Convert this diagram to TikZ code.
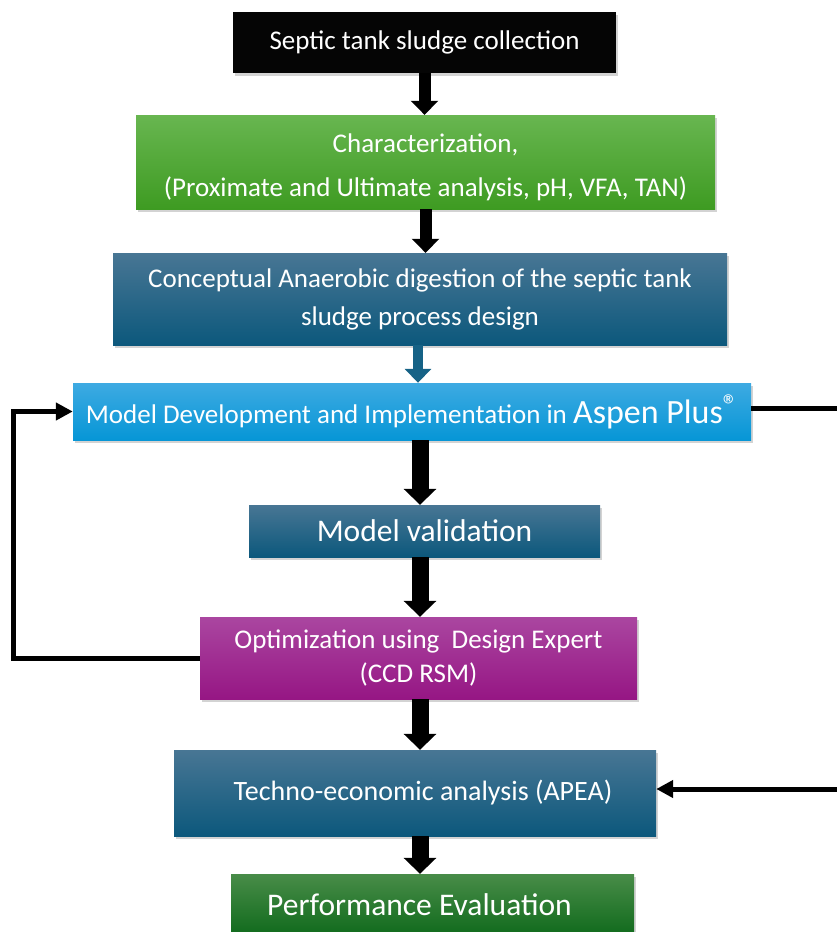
\documentclass[tikz,border=0pt]{standalone}
\usepackage{fontspec}
\setmainfont{Carlito}
\usetikzlibrary{arrows.meta,shadows}
\definecolor{collblack}{RGB}{5,5,5}
\definecolor{chartop}{RGB}{104,182,80}
\definecolor{charbot}{RGB}{62,155,34}
\definecolor{tealtop}{RGB}{72,118,148}
\definecolor{tealbot}{RGB}{12,88,124}
\definecolor{aspentop}{RGB}{62,170,226}
\definecolor{aspenbot}{RGB}{6,150,214}
\definecolor{opttop}{RGB}{170,70,160}
\definecolor{optbot}{RGB}{150,22,132}
\definecolor{perftop}{RGB}{72,140,72}
\definecolor{perfbot}{RGB}{16,106,28}
\definecolor{tealarrow}{RGB}{22,98,134}
\begin{document}
\begin{tikzpicture}[x=1pt, y=-1pt,
	box/.style={draw=none, text=white, align=center, inner sep=0pt,
		font=\fontsize{27}{38}\selectfont,
		drop shadow={shadow xshift=2pt, shadow yshift=-3pt, opacity=.35}},
	tealbox/.style={box, top color=tealtop, bottom color=tealbot},
	blockarr/.style={-{Triangle[width=27pt,length=14pt]}, line width=12pt},
	bigarr/.style={-{Triangle[width=32pt,length=16pt]}, line width=17pt},
	fb/.style={line width=5pt, -{Triangle[width=17pt,length=17pt]}}]
	\useasboundingbox (0,0) rectangle (837,932);
	\node[box, fill=collblack, minimum width=383pt, minimum height=61pt] (coll) at (424.5,42) {Septic tank sludge collection};
	\node[box, top color=chartop, bottom color=charbot, minimum width=579pt, minimum height=94pt, font=\fontsize{27}{44}\selectfont] (char) at (425.5,162) {\rule{0pt}{30pt}Characterization,\\ (Proximate and Ultimate analysis, pH, VFA, TAN)};
	\node[tealbox, minimum width=614pt, minimum height=92pt] (concept) at (420,299) {Conceptual Anaerobic digestion of the septic tank\\sludge process design};
	\node[box, top color=aspentop, bottom color=aspenbot, minimum width=678pt, minimum height=57pt, font=\fontsize{27}{30}\selectfont] (model) at (412,411.5) {Model Development and Implementation in {\fontsize{34}{34}\selectfont Aspen Plus\raisebox{8pt}{\fontsize{30}{30}\selectfont ®}}};
	\node[tealbox, minimum width=351pt, minimum height=52pt, font=\fontsize{31.5}{34}\selectfont] (valid) at (424.5,531) {Model validation};
	\node[box, top color=opttop, bottom color=optbot, minimum width=437pt, minimum height=82pt, font=\fontsize{27}{34}\selectfont] (opt) at (418.5,658) {Optimization using\ \ Design Expert\\(CCD RSM)};
	\node[tealbox, minimum width=482pt, minimum height=86pt, font=\fontsize{28}{34}\selectfont] (tea) at (415,793) {\hspace*{16pt}Techno-economic analysis (APEA)};
	\node[box, top color=perftop, bottom color=perfbot, minimum width=403pt, minimum height=62pt, font=\fontsize{31.5}{34}\selectfont] (perf) at (432.5,905) {Performance Evaluation\hspace*{26pt}};
	\coordinate (lx) at (13,0);
	\coordinate (rx) at (837,0);
	\coordinate (ax) at (418,0);
	\coordinate (bx) at (420,0);
	\draw[blockarr] (coll.south) -- (coll.south |- char.north);
	\draw[blockarr] (char.south) -- (char.south |- concept.north);
	\draw[line width=10pt, tealarrow, -{Triangle[width=26pt,length=14pt]}] (concept.south -| ax) -- (model.north -| ax);
	\draw[bigarr] (model.south -| bx) -- (valid.north -| bx);
	\draw[bigarr] (valid.south -| bx) -- (opt.north -| bx);
	\draw[bigarr] (opt.south -| bx) -- (tea.north -| bx);
	\draw[bigarr] (tea.south -| bx) -- (perf.north -| bx);
	\draw[fb] (opt.west) -- (opt.west -| lx) |- (model.west);
	\draw[line width=5pt] ([yshift=3pt]model.east) -- ([yshift=3pt]model.east -| rx);
	\draw[fb] ([yshift=4pt]tea.east -| rx) -- ([yshift=4pt]tea.east);
\end{tikzpicture}
\end{document}
